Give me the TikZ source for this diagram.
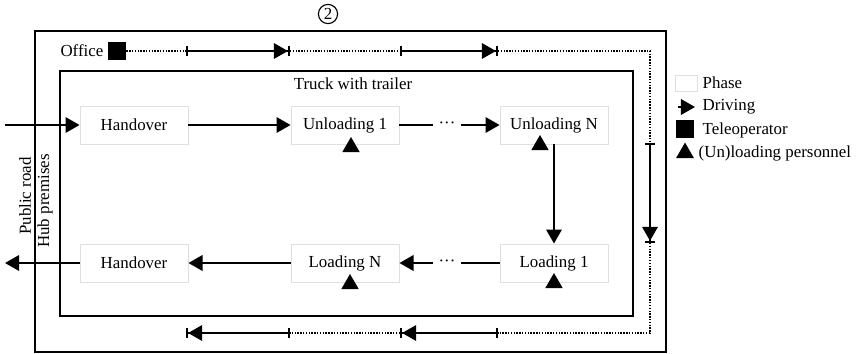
\documentclass[tikz,border=0pt]{standalone}
\usepackage{fontspec}
\setmainfont{Liberation Serif}
\usepackage{tikz}
\usetikzlibrary{shapes.geometric,arrows.meta,positioning,calc}
\tikzset{
  phase/.style={draw=gray!25,line width=0.6pt,minimum width=2.7cm,minimum height=0.95cm,
                inner sep=0pt,font=\fontsize{12}{14}\selectfont},
  area/.style={draw,line width=1.3pt},
  worker/.style={regular polygon,regular polygon sides=3,fill=black,minimum size=0.5cm,inner sep=0pt},
  teleop/.style={fill=black,minimum size=0.45cm,inner sep=0pt},
  drive/.style={line width=1.5pt,-{Triangle[length=10pt,width=11pt]}},
  thinline/.style={line width=1pt},
  route/.style={line width=1.5pt,{Bar[width=7pt]}-{Triangle[length=10pt,width=11pt] Bar[width=7pt]}},
  idle/.style={line width=1pt,densely dotted},
  lbl/.style={font=\fontsize{12}{14}\selectfont,inner sep=1pt},
  dotsep/.style={font=\fontsize{12}{14}\selectfont,inner sep=4pt},
}

\begin{document}
\begin{tikzpicture}[x=0.025cm,y=-0.025cm]
  \useasboundingbox (0,0) rectangle (860,354);

  %% Hub premises and truck
  \draw[area] (35,31) rectangle (666,352);
  \draw[area] (60,71) rectangle (633,316);
  \node[draw,circle,line width=0.8pt,minimum size=0.48cm,inner sep=0pt,font=\fontsize{12}{13}\selectfont]
    (zone) at (328,14) {2};
  \node[lbl] (truck) at (353,84) {Truck with trailer};
  \node[lbl,rotate=90] (road) at (25,196) {Public road};
  \node[lbl,rotate=90] (hub)  at (45,201) {Hub premises};

  %% Phases
  \node[phase] (H1) at (134,125) {Handover};
  \node[phase] (U1) at (345,125) {Unloading 1};
  \node[phase] (UN) at (554,125) {Unloading N};
  \node[phase] (H2) at (134,263) {Handover};
  \node[phase] (LN) at (345,263) {Loading N};
  \node[phase] (L1) at (554,263) {Loading 1};
  \node[dotsep] (dU) at (447,125) {\textperiodcentered\textperiodcentered\textperiodcentered};
  \node[dotsep] (dL) at (447,263) {\textperiodcentered\textperiodcentered\textperiodcentered};
  \coordinate (in)  at (5,125);
  \coordinate (out) at (5,263);

  %% Driving
  \draw[drive] (in) -- (H1.west);
  \draw[drive] (H1) -- (U1);
  \draw[thinline] (U1.east) -- (dU.west);
  \draw[drive] (dU.east) -- (UN.west);
  \draw[drive] (UN.south) -- (L1.north);
  \draw[thinline] (L1.west) -- (dL.east);
  \draw[drive] (dL.west) -- (LN.east);
  \draw[drive] (LN) -- (H2);
  \draw[drive] (H2.west) -- (out);

  %% Personnel
  \node[worker] (p1) at (351,147) {};
  \node[worker] (p2) at (540,145) {};
  \node[worker] (p3) at (350,284) {};
  \node[worker] (p4) at (554,283) {};

  %% Teleoperator route
  \node[lbl,anchor=east] (office) at (105,51) {Office};
  \node[teleop] (tele) at (117,51) {};
  \coordinate (a1) at (186,51);  \coordinate (a2) at (290,51);
  \coordinate (a3) at (400,51);  \coordinate (a4) at (498,51);
  \coordinate (c1) at (650,51);
  \coordinate (b1) at (650,143); \coordinate (b2) at (650,243);
  \coordinate (c2) at (650,333);
  \coordinate (d1) at (498,333); \coordinate (d2) at (400,333);
  \coordinate (d3) at (290,333); \coordinate (d4) at (186,333);
  \draw[idle] (tele.east) -- (a1);
  \draw[idle] (a2) -- (a3);
  \draw[idle] (a4) -- (c1) -- (b1);
  \draw[idle] (b2) -- (c2) -- (d1);
  \draw[idle] (d2) -- (d3);
  \draw[route] (a1) -- (a2);
  \draw[route] (a3) -- (a4);
  \draw[route] (b1) -- (b2);
  \draw[route] (d1) -- (d2);
  \draw[route] (d3) -- (d4);

  %% Legend
  \node[draw=gray!25,line width=0.6pt,minimum width=0.55cm,minimum height=0.4cm,inner sep=0pt]
    (kPhase) at (686,83) {};
  \coordinate (kd1) at (678,107); \coordinate (kd2) at (695,107);
  \draw[drive] (kd1) -- (kd2);
  \node[teleop] (kTele) at (685,129) {};
  \node[worker,minimum size=0.52cm] (kWork) at (685,153) {};
  \node[lbl,anchor=west] at (701,83)  {Phase};
  \node[lbl,anchor=west] at (701,107) {Driving};
  \node[lbl,anchor=west] at (701,130) {Teleoperator};
  \node[lbl,anchor=west] at (697,153) {(Un)loading personnel};
\end{tikzpicture}
\end{document}
